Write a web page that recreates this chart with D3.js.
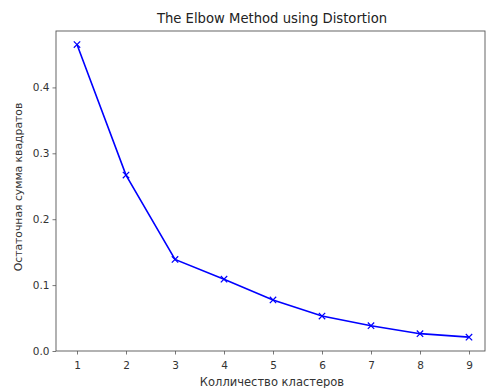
<!DOCTYPE html>
<html>
<head>
<meta charset="utf-8">
<script src="https://cdn.jsdelivr.net/npm/d3@7"></script>
<style>
body { margin: 0; background: #fff; }
svg text { font-family: "DejaVu Sans", sans-serif; }
</style>
</head>
<body>
<svg id="chart" width="486" height="388"></svg>
<script>
const clusters = [1, 2, 3, 4, 5, 6, 7, 8, 9];
const distortion = [0.465, 0.267, 0.139, 0.109, 0.0774, 0.053, 0.0384, 0.0263, 0.021];
const yTicks = [0.0, 0.1, 0.2, 0.3, 0.4];
const title = "The Elbow Method using Distortion";
const xLabel = "Колличество кластеров";
const yLabel = "Остаточная сумма квадратов";

const svg = d3.select("#chart");
const L = 56, R = 485, T = 31, B = 351;

const x = d3.scaleLinear().domain([0.5714, 9.3265]).range([L, R]);
const y = d3.scaleLinear().domain([0, 0.4856]).range([B, T]);

const textColor = "#333";

// axes
const xAxis = svg.append("g").attr("transform", `translate(0,${B})`)
  .call(d3.axisBottom(x).tickValues(clusters).tickFormat(d3.format("d")).tickSize(3.5).tickSizeOuter(0));
const yAxis = svg.append("g").attr("transform", `translate(${L},0)`)
  .call(d3.axisLeft(y).tickValues(yTicks).tickFormat(d3.format(".1f")).tickSize(3.5).tickSizeOuter(0));
[xAxis, yAxis].forEach(g => {
  g.select(".domain").remove();
  g.selectAll(".tick line").attr("stroke", "#555").attr("stroke-width", 0.8);
  g.selectAll(".tick text").attr("fill", textColor).style("font-size", "10.5px")
    .style("font-family", "'DejaVu Sans', sans-serif");
});
xAxis.selectAll(".tick text").attr("dy", "1.05em");

// frame
svg.append("rect").attr("x", L).attr("y", T).attr("width", R - L).attr("height", B - T)
  .attr("fill", "none").attr("stroke", "#555").attr("stroke-width", 0.9);

// line
const line = d3.line().x((d, i) => x(clusters[i])).y(d => y(d));
svg.append("path").datum(distortion).attr("d", line)
  .attr("fill", "none").attr("stroke", "#0000ff").attr("stroke-width", 1.6);

// markers
const m = 3.2;
svg.append("g").selectAll("path").data(distortion).join("path")
  .attr("d", (d, i) => {
    const cx = x(clusters[i]), cy = y(d);
    return `M${cx - m},${cy - m}L${cx + m},${cy + m}M${cx - m},${cy + m}L${cx + m},${cy - m}`;
  })
  .attr("stroke", "#0000ff").attr("stroke-width", 1.2).attr("fill", "none");

// title
svg.append("text").attr("x", 272).attr("y", 23).attr("text-anchor", "middle")
  .style("font-size", "13.2px").attr("fill", "#222").text(title);

// x label
svg.append("text").attr("x", 272).attr("y", 386).attr("text-anchor", "middle")
  .style("font-size", "11.5px").attr("fill", textColor).text(xLabel);

// y label
svg.append("text").attr("transform", `translate(21.5,187) rotate(-90)`)
  .attr("text-anchor", "middle").style("font-size", "10.8px").attr("fill", textColor).text(yLabel);
</script>
</body>
</html>
